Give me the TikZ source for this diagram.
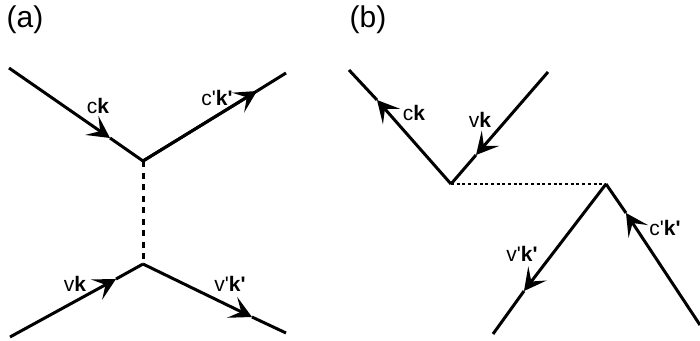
\documentclass[tikz,border=0pt]{standalone}
\usepackage{fontspec}
\setmainfont{Liberation Sans}[Ligatures=TeXOff]
\usetikzlibrary{arrows.meta}
\tikzset{
    fermion/.style={line width=3pt,-{Stealth[length=22pt,width=23pt,inset=10pt]}},
    leg/.style={line width=3pt},
    lbl/.style={font=\fontsize{21}{21}\selectfont,inner sep=0pt},
    tag/.style={font=\fontsize{30}{30}\selectfont,inner sep=0pt}
}
\begin{document}
\begin{tikzpicture}[x=1pt,y=-1pt]
            \useasboundingbox (0,0) rectangle (700,340);

            % panel (a)
            \coordinate (A1) at (9,68);
            \coordinate (A2) at (143,161);
            \coordinate (A3) at (286,73);
            \coordinate (A4) at (10,337);
            \coordinate (A5) at (143,264);
            \coordinate (A6) at (286,333);
            \coordinate (Aa) at (110,138);
            \coordinate (Ab) at (257,91);
            \coordinate (Ac) at (116,279);
            \coordinate (Ad) at (252,317);

            \draw[fermion] (A1) -- (Aa);
            \draw[leg] (Aa) -- (A2) -- (Ab);
            \draw[fermion] (A2) -- (Ab);
            \draw[leg] (Ab) -- (A3);
            \draw[fermion] (A4) -- (Ac);
            \draw[leg] (Ac) -- (A5);
            \draw[fermion] (A5) -- (Ad);
            \draw[leg] (Ad) -- (A6);
            \draw[line width=3pt,dash pattern=on 6pt off 5.5pt] (A2) -- (A5);

            % panel (b)
            \coordinate (B1) at (349,70);
            \coordinate (B2) at (451,184);
            \coordinate (B3) at (548,72);
            \coordinate (B4) at (606,184);
            \coordinate (B5) at (493,334);
            \coordinate (B6) at (700,325);
            \coordinate (Ba) at (377,100);
            \coordinate (Bb) at (476,155);
            \coordinate (Bc) at (524,291);
            \coordinate (Bd) at (626,213);

            \draw[fermion] (B2) -- (Ba);
            \draw[leg] (Ba) -- (B1);
            \draw[fermion] (B3) -- (Bb);
            \draw[leg] (Bb) -- (B2);
            \draw[fermion] (B4) -- (Bc);
            \draw[leg] (Bc) -- (B5);
            \draw[fermion] (B6) -- (Bd);
            \draw[leg] (Bd) -- (B4);
            \draw[line width=2.6pt,dash pattern=on 3pt off 2.7pt] (B2) -- (B4);

            \node[tag] (ta) at (25,20) {(a)};
            \node[tag] (tb) at (368,20) {(b)};
            \node[lbl] (l1) at (98,106) {c\textbf{k}};
            \node[lbl] (l2) at (217,98) {c'\textbf{k'}};
            \node[lbl] (l3) at (75,284) {v\textbf{k}};
            \node[lbl] (l4) at (230,284) {v'\textbf{k'}};
            \node[lbl] (l5) at (414,113) {c\textbf{k}};
            \node[lbl] (l6) at (480,120) {v\textbf{k}};
            \node[lbl] (l7) at (522,254) {v'\textbf{k'}};
            \node[lbl] (l8) at (665,228) {c'\textbf{k'}};
        \end{tikzpicture}
\end{document}
